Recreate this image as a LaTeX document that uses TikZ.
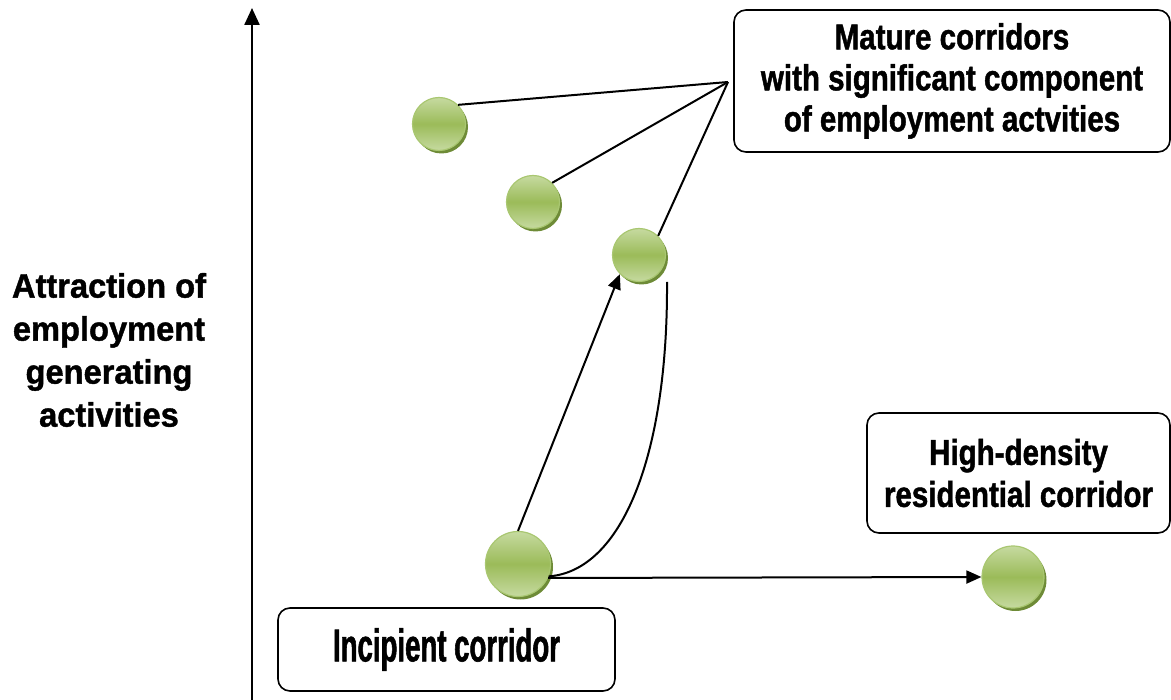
\documentclass[tikz,border=0pt]{standalone}
\usepackage{fontspec}
\usepackage{tikz}
\usetikzlibrary{arrows.meta, shadows, positioning}
\setmainfont{Liberation Sans}
\newfontfamily\labelfont[FakeStretch=0.96, FakeBold=1.2]{Liberation Sans}
\newfontfamily\boxfont[FakeStretch=0.82, FakeBold=1.2]{Liberation Sans}
\newfontfamily\incfont[FakeStretch=0.60, FakeBold=1.2]{Liberation Sans}
\definecolor{ballgreen}{HTML}{9BBB59}
\definecolor{balllight}{HTML}{C6DAA0}
\definecolor{ballrim}{HTML}{A9C771}
\definecolor{ballshade}{HTML}{6E8B37}

\begin{document}
\begin{tikzpicture}[x=1pt, y=-1pt, line width=2pt,
    ball/.style={circle, inner sep=0pt, draw=ballrim, line width=1.2pt,
        top color=balllight, bottom color=balllight, middle color=ballgreen,
        drop shadow={shadow xshift=2.5pt, shadow yshift=-3pt, fill=ballshade, opacity=1}},
    tag/.style={draw, rounded corners=12pt, line width=1.6pt, align=center, inner sep=0pt},
    >={Triangle[length=15pt, width=13pt]}]
            \useasboundingbox (0,0) rectangle (1171,700);
            % corridors
            \node[ball, minimum size=53pt] (m_1) at (439,124) {};
            \node[ball, minimum size=53pt] (m_2) at (533,202) {};
            \node[ball, minimum size=53pt] (m_3) at (639,255) {};
            \node[ball, minimum size=65pt] (inc) at (518,564) {};
            \node[ball, minimum size=62pt] (hd) at (1013,577) {};
            % labels
            \node[tag, minimum width=436pt, minimum height=142pt,
                font=\boxfont\bfseries\fontsize{36}{41}\selectfont] (mature) at (952,81)
                {Mature corridors\\with significant component\\of employment actvities};
            \node[tag, minimum width=303pt, minimum height=120pt,
                font=\boxfont\bfseries\fontsize{36}{42}\selectfont] (dense) at (1018.5,473)
                {High-density\\residential corridor};
            \node[tag, minimum width=337pt, minimum height=83pt,
                font=\incfont\bfseries\fontsize{46}{50}\selectfont] (incipient) at (446.5,649.5)
                {Incipient corridor};
            \node[align=center, font=\labelfont\bfseries\fontsize{34}{43}\selectfont] (attr) at (109,350)
                {Attraction of\\employment\\generating\\activities};
            % axis
            \coordinate (ax_0) at (252,700);
            \coordinate (ax_1) at (252,8);
            \draw[->, line width=2.4pt, >={Triangle[length=17pt, width=15pt]}] (ax_0) -- (ax_1);
            % connectors
            \coordinate (hub) at (728,82);
            \coordinate (gap) at (667,282);
            \path
                (hub) edge (m_1.north east)
                edge (m_2.north east)
                edge (m_3.north east);
            \path[->]
                (inc.north) edge (m_3.south west)
                (inc.-25) edge (hd.west);
            \draw (inc.-22) .. controls (622,571) and (668,455) .. (gap);
\end{tikzpicture}
\end{document}
